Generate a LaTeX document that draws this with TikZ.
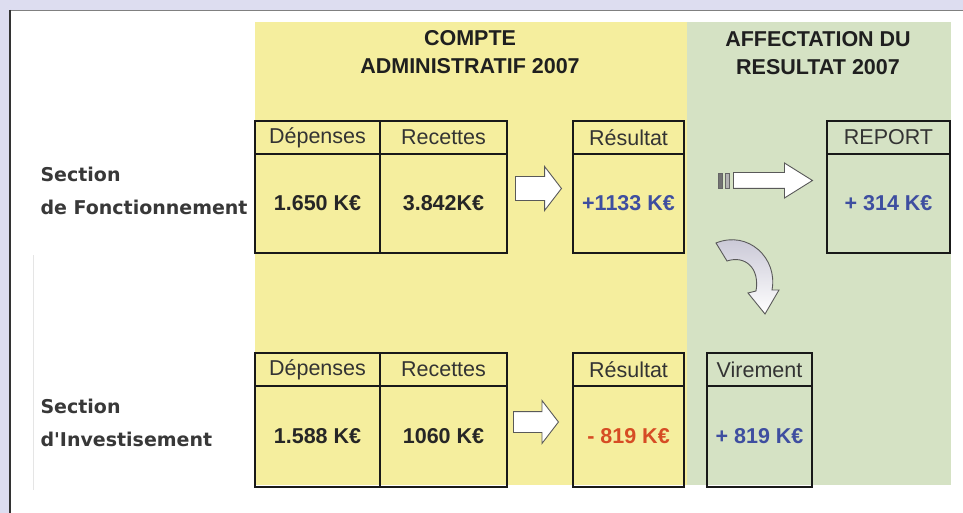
\documentclass[tikz,border=0pt]{standalone}
\usepackage{fontspec}
\setmainfont{Liberation Sans}
\newfontfamily\sectionfont{DejaVu Sans}
\usetikzlibrary{positioning,shapes.arrows}

\definecolor{pagebg}{RGB}{221,221,240}
\definecolor{caYellow}{RGB}{245,238,158}
\definecolor{afGreen}{RGB}{213,226,196}
\definecolor{plusBlue}{RGB}{62,78,160}
\definecolor{minusRed}{RGB}{214,76,36}
\definecolor{curveGray}{RGB}{196,194,210}

\begin{document}
\begin{tikzpicture}[
  x=1pt,
  y=-1pt,
  font=\fontsize{21.5}{26}\selectfont,
  headcell/.style={
    rectangle,
    minimum height=33pt,
    inner sep=0pt,
    outer sep=0pt,
    text=black!80
  },
  valuecell/.style={
    rectangle,
    minimum height=99pt,
    inner sep=0pt,
    outer sep=0pt,
    font=\fontsize{21.5}{26}\selectfont\bfseries,
    text=black!85
  },
  boxline/.style={draw=black!90, line width=2.4pt},
  gridline/.style={draw=black!90, line width=1.6pt},
  title/.style={font=\fontsize{21.5}{28}\selectfont\bfseries, align=center, text=black!88},
  section/.style={
    font=\sectionfont\bfseries\fontsize{19}{33}\selectfont,
    align=left,
    text=black!78,
    anchor=west
  },
  blockarrow/.style={
    single arrow,
    draw=black!65,
    fill=white,
    line width=0.9pt,
    inner xsep=0pt,
    anchor=west
  },
  stripe/.style={
    rectangle,
    draw=black!60,
    fill=black!55,
    minimum width=4pt,
    minimum height=15pt,
    inner sep=0pt,
    anchor=west
  }
]
\useasboundingbox (0,0) rectangle (963,513);

% ---------------------------------------------------------------------------
% Page and coloured areas
% ---------------------------------------------------------------------------
\fill[pagebg] (0,0) rectangle (963,513);
\fill[white] (10,10) rectangle (963,513);
\draw[black!50, line width=1.5pt] (10,10.5) -- (963,10.5);
\draw[black!80, line width=2.5pt] (10,10) -- (10,513);
\draw[black!10, line width=1pt] (33,255) -- (33,490);
\fill[caYellow] (255,22) rectangle (687,485);
\fill[afGreen] (687,22) rectangle (951,485);

\node[title] (caTitle) at (470,52) {COMPTE\\ADMINISTRATIF 2007};
\node[title] (afTitle) at (818,53) {AFFECTATION DU\\RESULTAT 2007};

\node[section] (secFonct) at (37,191) {Section\\de Fonctionnement};
\node[section] (secInvest) at (37,423) {Section\\d'Investisement};

% ---------------------------------------------------------------------------
% Section de fonctionnement
% ---------------------------------------------------------------------------
\node[headcell, minimum width=125pt] (depF) at (317.5,137.5) {Dépenses};
\node[headcell, minimum width=127pt, right=0pt of depF] (recF) {Recettes};
\node[valuecell, minimum width=125pt, below=0pt of depF] (depF-val) {1.650 K€};
\node[valuecell, minimum width=127pt, below=0pt of recF] (recF-val) {3.842K€};

\node[headcell, minimum width=111pt] (resF) at (628.5,137.5) {Résultat};
\node[valuecell, minimum width=111pt, below=0pt of resF, text=plusBlue]
  (resF-val) {+1133 K€};

\node[headcell, minimum width=123pt] (report) at (888.5,137.5) {REPORT};
\node[valuecell, minimum width=123pt, below=0pt of report, text=plusBlue]
  (report-val) {+ 314 K€};

% ---------------------------------------------------------------------------
% Section d'investissement
% ---------------------------------------------------------------------------
\node[headcell, minimum width=125pt] (depI) at (317.5,369.5) {Dépenses};
\node[headcell, minimum width=127pt, right=0pt of depI] (recI) {Recettes};
\node[valuecell, minimum width=125pt, minimum height=101pt, below=0pt of depI]
  (depI-val) {1.588 K€};
\node[valuecell, minimum width=127pt, minimum height=101pt, below=0pt of recI]
  (recI-val) {1060 K€};

\node[headcell, minimum width=111pt] (resI) at (628.5,369.5) {Résultat};
\node[valuecell, minimum width=111pt, minimum height=101pt, below=0pt of resI,
  text=minusRed] (resI-val) {- 819 K€};

\node[headcell, minimum width=105pt] (vir) at (759.5,369.5) {Virement};
\node[valuecell, minimum width=105pt, minimum height=101pt, below=0pt of vir,
  text=plusBlue] (vir-val) {+ 819 K€};

% borders
\draw[boxline] (depF.north west) rectangle (recF-val.south east);
\draw[gridline] (depF.south west) -- (recF.south east);
\draw[gridline] (depF.north east) -- (depF-val.south east);
\draw[boxline] (depI.north west) rectangle (recI-val.south east);
\draw[gridline] (depI.south west) -- (recI.south east);
\draw[gridline] (depI.north east) -- (depI-val.south east);
\foreach \b in {resF,report,resI,vir} {
  \draw[boxline] (\b.north west) rectangle (\b-val.south east);
  \draw[gridline] (\b.south west) -- (\b.south east);
}

% ---------------------------------------------------------------------------
% Arrows
% ---------------------------------------------------------------------------
\node[blockarrow, minimum height=46pt, inner ysep=11.5pt,
  single arrow head extend=10pt, single arrow tip angle=105]
  (arrF) at (515,188.5) {};
\node[blockarrow, minimum height=45pt, inner ysep=10pt,
  single arrow head extend=11pt, single arrow tip angle=105]
  (arrI) at (513,422) {};
\node[blockarrow, minimum height=79pt, inner ysep=7.5pt,
  single arrow head extend=9.5pt, single arrow tip angle=64]
  (arrReport) at (733,180.5) {};
\node[stripe] (stripeA) at (718,180.5) {};
\node[stripe, fill=black!30] (stripeB) at (725,180.5) {};

% curved arrow towards the transfer
\draw[draw=black!65, line width=0.9pt,
  top color=curveGray, middle color=white, bottom color=white]
  (716,243) .. controls (748,230) and (778,258) .. (772,290)
  -- (779,290) -- (765,314) -- (748,293) -- (756,291)
  .. controls (760,268) and (745,255) .. (727,261) -- cycle;
\end{tikzpicture}
\end{document}
